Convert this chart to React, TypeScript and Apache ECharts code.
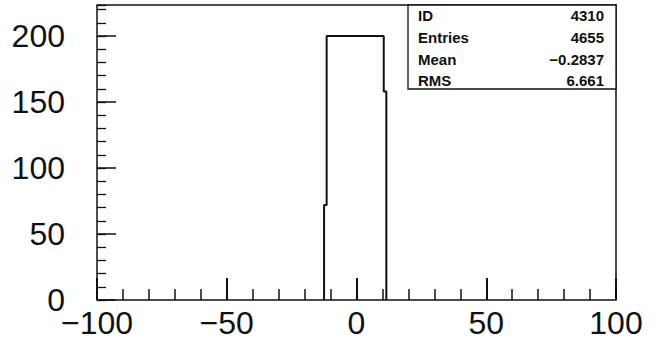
import React, { useEffect, useRef } from "react";
import * as echarts from "echarts";

// Histogram: bins of width 1 starting at -12.5
const binStart = -12.5;
const binWidth = 1;
const binCounts = [
  72,
  200, 200, 200, 200, 200, 200, 200, 200, 200, 200, 200,
  200, 200, 200, 200, 200, 200, 200, 200, 200, 200, 200,
  158,
];

const xRange = [-100, 100];
const yRange = [0, 223.5];
const xMajorStep = 50;
const xMinorStep = 10;
const yMajorStep = 50;
const yMinorStep = 10;

const statLabels = ["ID", "Entries", "Mean", "RMS"];
const statValues = ["4310", "4655", "\u22120.2837", "6.661"];

function buildOutline(): number[][] {
  const pts: number[][] = [[binStart, 0]];
  binCounts.forEach((c, i) => {
    const lo = binStart + i * binWidth;
    pts.push([lo, c], [lo + binWidth, c]);
  });
  pts.push([binStart + binCounts.length * binWidth, 0]);
  return pts;
}

const fmt = (step: number) => (v: number) =>
  Math.abs(v % step) < 1e-9 ? String(v).replace("-", "\u2212") : "";

export default function App() {
  const ref = useRef<HTMLDivElement>(null);
  useEffect(() => {
    if (!ref.current) return;
    const chart = echarts.init(ref.current, undefined, { renderer: "svg" });
    const labelStyle = {
      fontFamily: "Liberation Sans",
      fontSize: 32,
      color: "#111",
    };
    const rowY = [15, 37, 59, 80];
    const noLine = { show: false, onZero: false };
    chart.setOption({
      animation: false,
      backgroundColor: "#fff",
      grid: {
        left: 97,
        right: 42,
        top: 5,
        bottom: 43,
        show: true,
        borderColor: "#111",
        borderWidth: 1.5,
        backgroundColor: "transparent",
      },
      xAxis: [
        {
          type: "value",
          min: xRange[0],
          max: xRange[1],
          interval: xMajorStep,
          position: "bottom",
          axisLine: noLine,
          axisTick: { show: true, inside: true, length: 22, lineStyle: { color: "#111", width: 2 } },
          axisLabel: { ...labelStyle, margin: 7, formatter: fmt(xMajorStep) },
          splitLine: { show: false },
        },
        {
          type: "value",
          min: xRange[0],
          max: xRange[1],
          interval: xMinorStep,
          position: "bottom",
          offset: 0,
          axisLine: noLine,
          axisTick: { show: true, inside: true, length: 11, lineStyle: { color: "#111", width: 1.5 } },
          axisLabel: { show: false },
          splitLine: { show: false },
        },
      ],
      yAxis: [
        {
          type: "value",
          min: yRange[0],
          max: yRange[1],
          interval: yMajorStep,
          position: "left",
          axisLine: noLine,
          axisTick: { show: true, inside: true, length: 19, lineStyle: { color: "#111", width: 1.5 } },
          axisLabel: { ...labelStyle, margin: 32, formatter: fmt(yMajorStep), showMaxLabel: false },
          splitLine: { show: false },
        },
        {
          type: "value",
          min: yRange[0],
          max: yRange[1],
          interval: yMinorStep,
          position: "left",
          offset: 0,
          axisLine: noLine,
          axisTick: { show: true, inside: true, length: 9, lineStyle: { color: "#111", width: 1.3 } },
          axisLabel: { show: false },
          splitLine: { show: false },
        },
      ],
      series: [
        {
          type: "line",
          xAxisIndex: 0,
          yAxisIndex: 0,
          data: buildOutline(),
          showSymbol: false,
          symbol: "none",
          lineStyle: { color: "#111", width: 2 },
          z: 3,
        },
      ],
      graphic: [
        {
          type: "group",
          children: [
            {
              type: "rect",
              shape: { x: 408, y: 5, width: 208, height: 84 },
              style: { fill: "#fff", stroke: "#111", lineWidth: 1.3 },
            },
            ...statLabels.map((t, i) => ({
              type: "text",
              x: 418,
              y: rowY[i],
              style: {
                text: t,
                fill: "#111",
                font: "bold 15px 'Liberation Sans'",
                textAlign: "left",
                textVerticalAlign: "middle",
              },
            })),
            ...statValues.map((t, i) => ({
              type: "text",
              x: 604,
              y: rowY[i],
              style: {
                text: t,
                fill: "#111",
                font: "bold 15px 'Liberation Sans'",
                textAlign: "right",
                textVerticalAlign: "middle",
              },
            })),
          ],
        },
      ],
    });
    return () => chart.dispose();
  }, []);
  return (
    <div
      ref={ref}
      style={{ position: "fixed", left: 0, top: 0, width: 658, height: 343 }}
    />
  );
}
